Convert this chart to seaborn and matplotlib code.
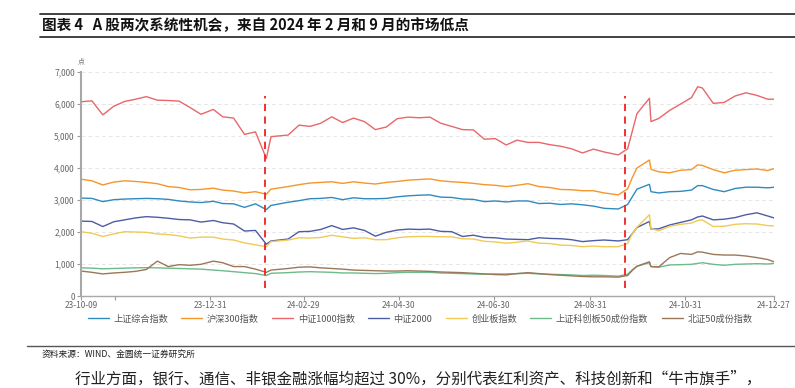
import numpy as np
import pandas as pd
import matplotlib
matplotlib.use("Agg")
import matplotlib.pyplot as plt
import matplotlib.dates as mdates
import seaborn as sns

dates = ["2023-10-09","2023-10-16","2023-10-23","2023-10-30","2023-11-06","2023-11-13","2023-11-20",
         "2023-11-27","2023-12-04","2023-12-11","2023-12-18","2023-12-25","2024-01-02","2024-01-08",
         "2024-01-15","2024-01-22","2024-01-29","2024-02-05","2024-02-08","2024-02-19","2024-02-26",
         "2024-03-04","2024-03-11","2024-03-18","2024-03-25","2024-04-01","2024-04-08","2024-04-15",
         "2024-04-22","2024-04-29","2024-05-06","2024-05-13","2024-05-20","2024-05-27","2024-06-03",
         "2024-06-10","2024-06-17","2024-06-24","2024-07-01","2024-07-08","2024-07-15","2024-07-22",
         "2024-07-29","2024-08-05","2024-08-12","2024-08-19","2024-08-26","2024-09-02","2024-09-09",
         "2024-09-18","2024-09-24","2024-09-27","2024-09-30","2024-10-08","2024-10-09","2024-10-14",
         "2024-10-21","2024-10-28","2024-11-04","2024-11-08","2024-11-11","2024-11-18","2024-11-25",
         "2024-12-02","2024-12-09","2024-12-16","2024-12-23","2024-12-27"]

sh_composite = [3060,3050,2950,3010,3030,3040,3050,3040,3020,2970,2940,2920,2960,2890,2880,2770,2880,2700,
                2830,2930,2980,3040,3050,3080,3010,3070,3040,3040,3050,3100,3130,3150,3160,3090,3080,3030,
                3020,2950,2970,2940,2970,2970,2890,2900,2860,2880,2850,2810,2740,2720,2860,3100,3340,3490,
                3260,3220,3260,3270,3310,3450,3450,3330,3260,3360,3400,3400,3380,3400]
hs300 = [3650,3600,3470,3560,3600,3580,3550,3510,3420,3390,3320,3330,3370,3310,3280,3220,3260,3180,3340,
         3420,3480,3530,3550,3570,3520,3570,3530,3500,3550,3580,3620,3640,3660,3600,3570,3550,3520,3480,
         3460,3420,3460,3510,3420,3390,3330,3320,3290,3290,3220,3160,3350,3700,4000,4250,3960,3880,3850,
         3930,3950,4100,4080,3950,3850,3930,3950,3970,3920,3980]
csi1000 = [6070,6100,5660,5930,6080,6150,6230,6120,6110,6090,5890,5680,5830,5600,5560,5050,5130,4300,4980,
           5030,5340,5300,5400,5600,5420,5560,5450,5200,5280,5540,5590,5570,5590,5400,5300,5200,5190,4900,
           4920,4720,4870,4800,4800,4730,4680,4600,4470,4590,4500,4410,4600,5150,5700,6180,5450,5550,5800,
           6000,6200,6540,6500,6020,6050,6250,6350,6270,6150,6150]
csi2000 = [2340,2330,2170,2320,2380,2440,2480,2460,2430,2390,2380,2310,2360,2290,2250,2030,2050,1620,1720,
           1780,2010,2020,2080,2200,2080,2130,2050,1870,1990,2060,2090,2080,2090,2020,2010,1860,1900,1830,
           1820,1780,1770,1760,1820,1800,1790,1760,1700,1730,1750,1720,1760,1950,2140,2330,2090,2100,2220,
           2300,2380,2470,2500,2380,2400,2450,2540,2600,2500,2440]
chinext = [2010,1960,1860,1940,2010,2000,1990,1940,1920,1880,1810,1840,1840,1780,1750,1660,1600,1540,1700,
           1750,1820,1810,1830,1900,1850,1800,1820,1760,1760,1820,1850,1860,1860,1850,1850,1790,1780,1710,
           1690,1650,1680,1720,1650,1640,1590,1580,1540,1560,1540,1540,1640,1950,2150,2540,2100,2040,2180,
           2240,2280,2360,2380,2170,2180,2240,2260,2250,2200,2190]
star50 = [880,870,850,860,870,880,885,880,870,860,850,840,810,790,760,730,700,640,710,730,750,760,750,740,
          720,720,710,700,710,730,740,740,740,720,710,700,690,680,690,690,700,710,690,680,670,660,640,650,
          640,620,680,820,930,1040,920,900,970,980,990,1020,1040,990,960,990,1000,1010,1000,1020]
bse50 = [780,740,690,720,740,770,830,1090,920,980,960,990,1090,1040,920,920,840,740,810,860,900,910,880,860,
         840,810,800,790,780,780,790,780,770,750,740,730,710,690,670,660,700,730,700,670,650,630,610,600,600,
         590,640,800,930,1070,920,910,1200,1330,1300,1380,1370,1300,1280,1280,1250,1200,1140,1070]

series_names = ["上证综合指数", "沪深300指数", "中证1000指数", "中证2000", "创业板指数", "上证科创板50成份指数", "北证50成份指数"]
series_values = [sh_composite, hs300, csi1000, csi2000, chinext, star50, bse50]
colors = ["#2f8bbf", "#f5962a", "#e8676a", "#4e5ca6", "#efcb55", "#6cbb8a", "#9b7759"]

low_dates = ["2024-02-04", "2024-09-22"]
xtick_dates = ["2023-10-09", "2023-10-31", "2023-12-31", "2024-02-29", "2024-04-30", "2024-06-30",
               "2024-08-31", "2024-10-31", "2024-12-27"]
xtick_labels = ["23-10-09", "", "23-12-31", "24-02-29", "24-04-30", "24-06-30", "24-08-31", "24-10-31", "24-12-27"]
yticks = [0, 1000, 2000, 3000, 4000, 5000, 6000, 7000]

title = "图表 4   A 股两次系统性机会，来自 2024 年 2 月和 9 月的市场低点"
source = "资料来源：WIND、金圆统一证券研究所"
body = "行业方面，银行、通信、非银金融涨幅均超过 30%，分别代表红利资产、科技创新和“牛市旗手”，"

frames = []
for name, vals in zip(series_names, series_values):
    frames.append(pd.DataFrame({"date": pd.to_datetime(dates), "value": vals, "series": name}))
df = pd.concat(frames, ignore_index=True)

sns.set_theme(style="white")
plt.rcParams["font.family"] = ["Noto Sans CJK SC", "DejaVu Sans"]

fig = plt.figure(figsize=(7.95, 3.88), dpi=100)
ax = fig.add_axes([0.1019, 0.2371, 0.8717, 0.5773])

sns.lineplot(data=df, x="date", y="value", hue="series", hue_order=series_names,
             palette=colors, linewidth=1.0, ax=ax, legend=True)

for d in low_dates:
    ax.axvline(pd.Timestamp(d), ymin=0.035, ymax=0.895, color="#ee2222", lw=1.3, ls=(0, (4, 3)))

ax.set_xlim(pd.Timestamp("2023-10-09"), pd.Timestamp("2024-12-27"))
ax.set_ylim(0, 7000)
ax.set_yticks(yticks)
ax.set_yticklabels([f"{v:,}" for v in yticks], fontsize=6, color="#666666")
ax.set_xticks(pd.to_datetime(xtick_dates))
ax.set_xticklabels(xtick_labels, fontsize=6, color="#666666")
ax.tick_params(axis="both", length=3, width=0.8, color="#999999", pad=1.5)
ax.tick_params(axis="x", direction="out", bottom=True, pad=0.5)
ax.tick_params(axis="y", direction="out", left=True)
ax.set_xlabel("")
ax.set_ylabel("")
ax.grid(axis="y", color="#e6e6e6", lw=0.7, ls=(0, (4, 3)))
for s in ["top", "right"]:
    ax.spines[s].set_visible(False)
ax.spines["left"].set_color("#a8a8a8")
ax.spines["left"].set_linewidth(1.5)
ax.spines["bottom"].set_color("#a8a8a8")
ax.spines["bottom"].set_linewidth(1.0)
ax.text(-0.005, 1.03, "点", transform=ax.transAxes, fontsize=5, color="#777777", ha="left", va="bottom")

handles, labels = ax.get_legend_handles_labels()
ax.legend(handles, labels, loc="upper center", bbox_to_anchor=(0.489, -0.045), ncol=7, frameon=False,
          fontsize=6.6, handlelength=2.3, handletextpad=0.5, columnspacing=1.45, labelcolor="#555555")

# title block
fig.add_artist(plt.Line2D([40 / 795, 1.0], [1 - 13.5 / 388] * 2, color="#333333", lw=1.3))
fig.add_artist(plt.Line2D([40 / 795, 1.0], [1 - 36.5 / 388] * 2, color="#333333", lw=1.3))
fig.text(42 / 795, 1 - 25 / 388, title, fontsize=10.5, fontweight="bold", ha="left", va="center", color="#111111")

# source block
fig.add_artist(plt.Line2D([27 / 795, 1.0], [1 - 345.5 / 388] * 2, color="#555555", lw=1.0))
fig.text(42 / 795, 1 - 354.5 / 388, source, fontsize=6.3, ha="left", va="center", color="#222222")
fig.text(75 / 795, 0.002, body, fontsize=11.2, ha="left", va="bottom", color="#222222")

fig.savefig("out.png", dpi=100)
